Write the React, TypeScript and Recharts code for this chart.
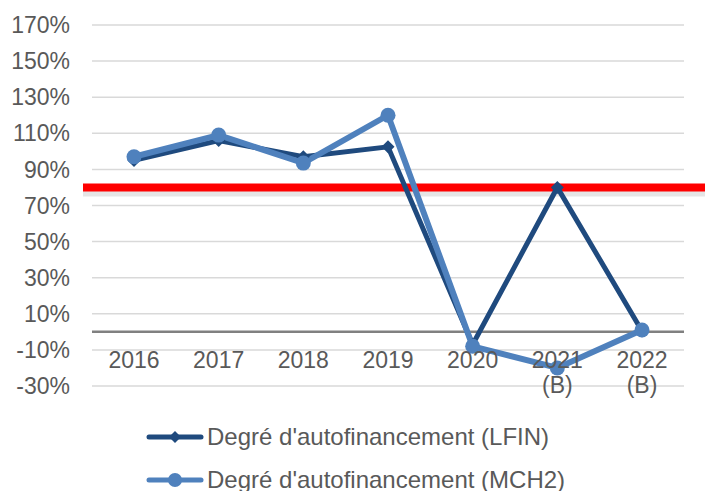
import React from 'react'
import { LineChart, Line, XAxis, YAxis, CartesianGrid, ReferenceLine } from 'recharts'

const years = ['2016', '2017', '2018', '2019', '2020', '2021', '2022']
const yearNotes = ['', '', '', '', '', '(B)', '(B)']
const lfin = [95, 106, 97, 102.5, -7, 80, 0.5]
const mch2 = [97, 109, 93.5, 120, -8, -20, 1]
const yTicks = [-30, -10, 10, 30, 50, 70, 90, 110, 130, 150, 170]
const threshold = 80

const seriesNames = {
  lfin: "Degré d'autofinancement (LFIN)",
  mch2: "Degré d'autofinancement (MCH2)",
}

const data = years.map((y, i) => ({ year: y, note: yearNotes[i], lfin: lfin[i], mch2: mch2[i] }))

const DARK = '#1F4A7E'
const LIGHT = '#4F81BD'
const TEXT = '#595959'
const FONT = '"Liberation Sans", Arial, sans-serif'

const Diamond = (props: any) => {
  const { cx, cy } = props
  if (cx == null || cy == null) return null
  const r = 6.5
  return <polygon points={`${cx},${cy - r} ${cx + r},${cy} ${cx},${cy + r} ${cx - r},${cy}`} fill={DARK} />
}

const Circle = (props: any) => {
  const { cx, cy } = props
  if (cx == null || cy == null) return null
  return <circle cx={cx} cy={cy} r={7.5} fill={LIGHT} />
}

const YearTick = (props: any) => {
  const { x, y, payload, index } = props
  const note = yearNotes[index]
  return (
    <g>
      <text x={x} y={y - 26} textAnchor='middle' fill={TEXT} fontSize={23} fontFamily={FONT}>
        {payload.value}
      </text>
      {note && (
        <text x={x} y={y - 1} textAnchor='middle' fill={TEXT} fontSize={23} fontFamily={FONT}>
          {note}
        </text>
      )}
    </g>
  )
}

const RedLine = (props: any) => {
  const { x1, y1, x2, y2 } = props
  return (
    <g>
      <line x1={x1 - 9} y1={y1 + 6} x2={x2 + 25} y2={y2 + 6} stroke='#000' strokeOpacity={0.1} strokeWidth={6} />
      <line x1={x1 - 9} y1={y1} x2={x2 + 25} y2={y2} stroke='#FF0000' strokeWidth={8} />
    </g>
  )
}

const LegendRows = () => (
  <div style={{ position: 'absolute', left: 146, top: 415, fontFamily: FONT, fontSize: 24, color: TEXT }}>
    {[
      { key: 'lfin', color: DARK, circle: false },
      { key: 'mch2', color: LIGHT, circle: true },
    ].map((it) => (
      <div key={it.key} style={{ display: 'flex', alignItems: 'center', height: 43 }}>
        <svg width={58} height={16} style={{ marginRight: 3 }}>
          <line x1={3} y1={8} x2={55} y2={8} stroke={it.color} strokeWidth={5} strokeLinecap='round' />
          {it.circle ? (
            <circle cx={29} cy={8} r={7} fill={it.color} />
          ) : (
            <polygon points='29,2 35,8 29,14 23,8' fill={it.color} />
          )}
        </svg>
        <span>{seriesNames[it.key as 'lfin' | 'mch2']}</span>
      </div>
    ))}
  </div>
)

export default function App() {
  return (
    <div style={{ position: 'absolute', left: 0, top: 0, width: 705, height: 491, background: '#fff' }}>
      <LineChart width={705} height={491} data={data} margin={{ top: 25, right: 21, bottom: 75, left: 0 }}>
        <CartesianGrid vertical={false} stroke='#D9D9D9' strokeWidth={1.5} />
        <XAxis
          dataKey='year'
          axisLine={false}
          tickLine={false}
          height={30}
          interval={0}
          padding={{ left: 42, right: 42 }}
          tick={<YearTick />}
        />
        <YAxis
          domain={[-30, 170]}
          ticks={yTicks}
          interval={0}
          width={92}
          axisLine={false}
          tickLine={false}
          tickSize={0}
          tickMargin={22}
          tickFormatter={(v: number) => `${v}%`}
          tick={{ fill: TEXT, fontSize: 23, fontFamily: FONT }}
        />
        <ReferenceLine y={0} stroke='#808080' strokeWidth={2.5} />
        <ReferenceLine y={threshold} shape={<RedLine />} />
        <Line
          dataKey='lfin'
          name={seriesNames.lfin}
          stroke={DARK}
          strokeWidth={5}
          dot={<Diamond />}
          activeDot={false}
          isAnimationActive={false}
        />
        <Line
          dataKey='mch2'
          name={seriesNames.mch2}
          stroke={LIGHT}
          strokeWidth={6}
          dot={<Circle />}
          activeDot={false}
          isAnimationActive={false}
        />
      </LineChart>
      <LegendRows />
    </div>
  )
}
